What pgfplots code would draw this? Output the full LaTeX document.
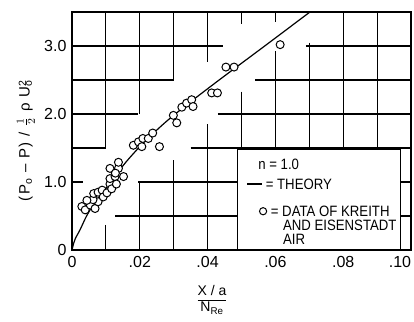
\documentclass[border=0pt]{standalone}
\usepackage{pgfplots}
\pgfplotsset{compat=1.18}
\usepackage{fontspec}
\setmainfont{Liberation Sans}[Scale=1.6]
\newfontfamily\lgf{Liberation Sans}[Scale=1.5, FakeStretch=0.88]
\newfontfamily\ylf{Liberation Sans}[Scale=1.5, LetterSpace=10]
\newfontfamily\xlf{Liberation Sans}[Scale=1.4]
\tikzset{gl/.style={black, line width=1.1pt}}
\begin{document}
\begin{tikzpicture}
\begin{axis}[
 name=ax,
 scale only axis, width=339pt, height=238pt,
 xmin=0, xmax=0.1, ymin=0, ymax=3.5,
 axis line style={line width=1.3pt},
 xtick={0,0.02,0.04,0.06,0.08,0.1},
 xticklabels={0,.02,.04,.06,.08,\hspace*{-22pt}.10},
 ytick={0,1,2,3},
 yticklabels={0,1.0,2.0,3.0},
 scaled x ticks=false,
 tick pos=left,
 tick align=inside,
 tick style={black, line width=0.8pt},
 major tick length=4pt,
 xticklabel style={yshift=-1pt},
 xlabel={$\displaystyle\frac{\hbox{\xlf X / a}}{\hbox{\xlf N\textsubscript{Re}}}$},
 xlabel style={at={(axis description cs:0.413,-0.21)}, anchor=center, font=\xlf},
 ylabel={(P\textsubscript{o} – P) / \scalebox{1.5}{$\frac{1}{2}$} ρ U\rlap{\textsuperscript{2}}\textsubscript{o}},
 ylabel style={at={(axis description cs:-0.136,0.46)}, anchor=center, font=\ylf},
]
% grid (hand-drawn style, with gaps)
\draw[gl] (0,3)--(0.0445,3); \draw[gl] (0.069,3)--(0.1,3);
\draw[gl] (0,2.5)--(0.030,2.5); \draw[gl] (0.054,2.5)--(0.1,2.5);
\draw[gl] (0,2)--(0.0195,2); \draw[gl] (0.043,2)--(0.1,2);
\draw[gl] (0,1.5)--(0.01,1.5); \draw[gl] (0.035,1.5)--(0.1,1.5);
\draw[gl] (0,1)--(0.0033,1); \draw[gl] (0.0195,1)--(0.0487,1); \draw[gl] (0.0968,1)--(0.1,1);
\draw[gl] (0.0127,0.5)--(0.0487,0.5); \draw[gl] (0.0968,0.5)--(0.1,0.5);
\draw[gl] (0.01,3.5)--(0.01,1.5); \draw[gl] (0.01,0.37)--(0.01,0);
\draw[gl] (0.02,3.5)--(0.02,2); \draw[gl] (0.02,1)--(0.02,0);
\draw[gl] (0.03,3.5)--(0.03,2.5); \draw[gl] (0.03,1.32)--(0.03,0);
\draw[gl] (0.04,3.5)--(0.04,2.77); \draw[gl] (0.04,1.85)--(0.04,0);
\draw[gl] (0.05,3.5)--(0.05,3.33); \draw[gl] (0.05,2.33)--(0.05,1.48);
\draw[gl] (0.06,3.5)--(0.06,3.35); \draw[gl] (0.06,2.92)--(0.06,1.48);
\draw[gl] (0.07,3.05)--(0.07,1.48);
\draw[gl] (0.08,3.5)--(0.08,1.48);
\draw[gl] (0.09,3.5)--(0.09,1.48);

\addplot[black, line width=1.2pt, smooth]
 coordinates {
 (0,0) (0.0005,0.1) (0.001,0.17) (0.0024,0.3) (0.0043,0.5) (0.0065,0.68)
 (0.0092,0.85) (0.0125,1.07) (0.0157,1.28) (0.02,1.52) (0.0245,1.74)
 (0.029,1.94) (0.0363,2.23) (0.045,2.56) (0.0555,2.95) (0.0702,3.5)
 };

\addplot[only marks, mark=*, mark size=4pt,
  mark options={fill=white, draw=black, line width=1pt}]
 coordinates {
 (0.0029,0.64) (0.0039,0.59) (0.0054,0.66) (0.0068,0.61) (0.0077,0.71)
 (0.0062,0.74) (0.0044,0.73) (0.0064,0.83) (0.0077,0.85) (0.0089,0.88)
 (0.0092,0.78) (0.0103,0.84) (0.0112,0.97) (0.0117,0.90) (0.0112,1.05)
 (0.0127,1.08) (0.0131,0.97) (0.0152,1.08) (0.0112,1.20) (0.0137,1.20)
 (0.0137,1.29) (0.0128,1.13)
 (0.0181,1.54) (0.0196,1.59) (0.0209,1.64) (0.0206,1.52) (0.0225,1.64)
 (0.0238,1.72) (0.0258,1.52) (0.0299,1.98) (0.0309,1.87) (0.0324,2.10)
 (0.0338,2.16) (0.0353,2.21) (0.0357,2.11) (0.0412,2.31) (0.0429,2.31)
 (0.0454,2.69) (0.0478,2.69) (0.0614,3.02)
 };

% legend box
\draw[line width=1.1pt, fill=white] (0.0487,0) rectangle (0.0968,1.48);
\node[font=\lgf, inner sep=0pt, anchor=base west] at (0.0549,1.184) {n = 1.0};
\node[font=\lgf, inner sep=0pt, anchor=base west] at (0.0516,0.89)
  {\rule[0.33em]{15pt}{1.1pt} = THEORY};
\node[font=\lgf, inner sep=0pt, anchor=base west] at (0.0551,0.493)
  {\tikz[baseline=-0.35em]\draw[line width=1pt] (0,0) circle (3.6pt); = DATA OF KREITH};
\node[font=\lgf, inner sep=0pt, anchor=base west] at (0.0622,0.287) {AND EISENSTADT};
\node[font=\lgf, inner sep=0pt, anchor=base west] at (0.0622,0.081) {AIR};
\end{axis}
\pgfresetboundingbox
\path ([shift={(-72pt,-72pt)}]ax.south west) rectangle ([shift={(3pt,12pt)}]ax.north east);
\end{tikzpicture}
\end{document}
